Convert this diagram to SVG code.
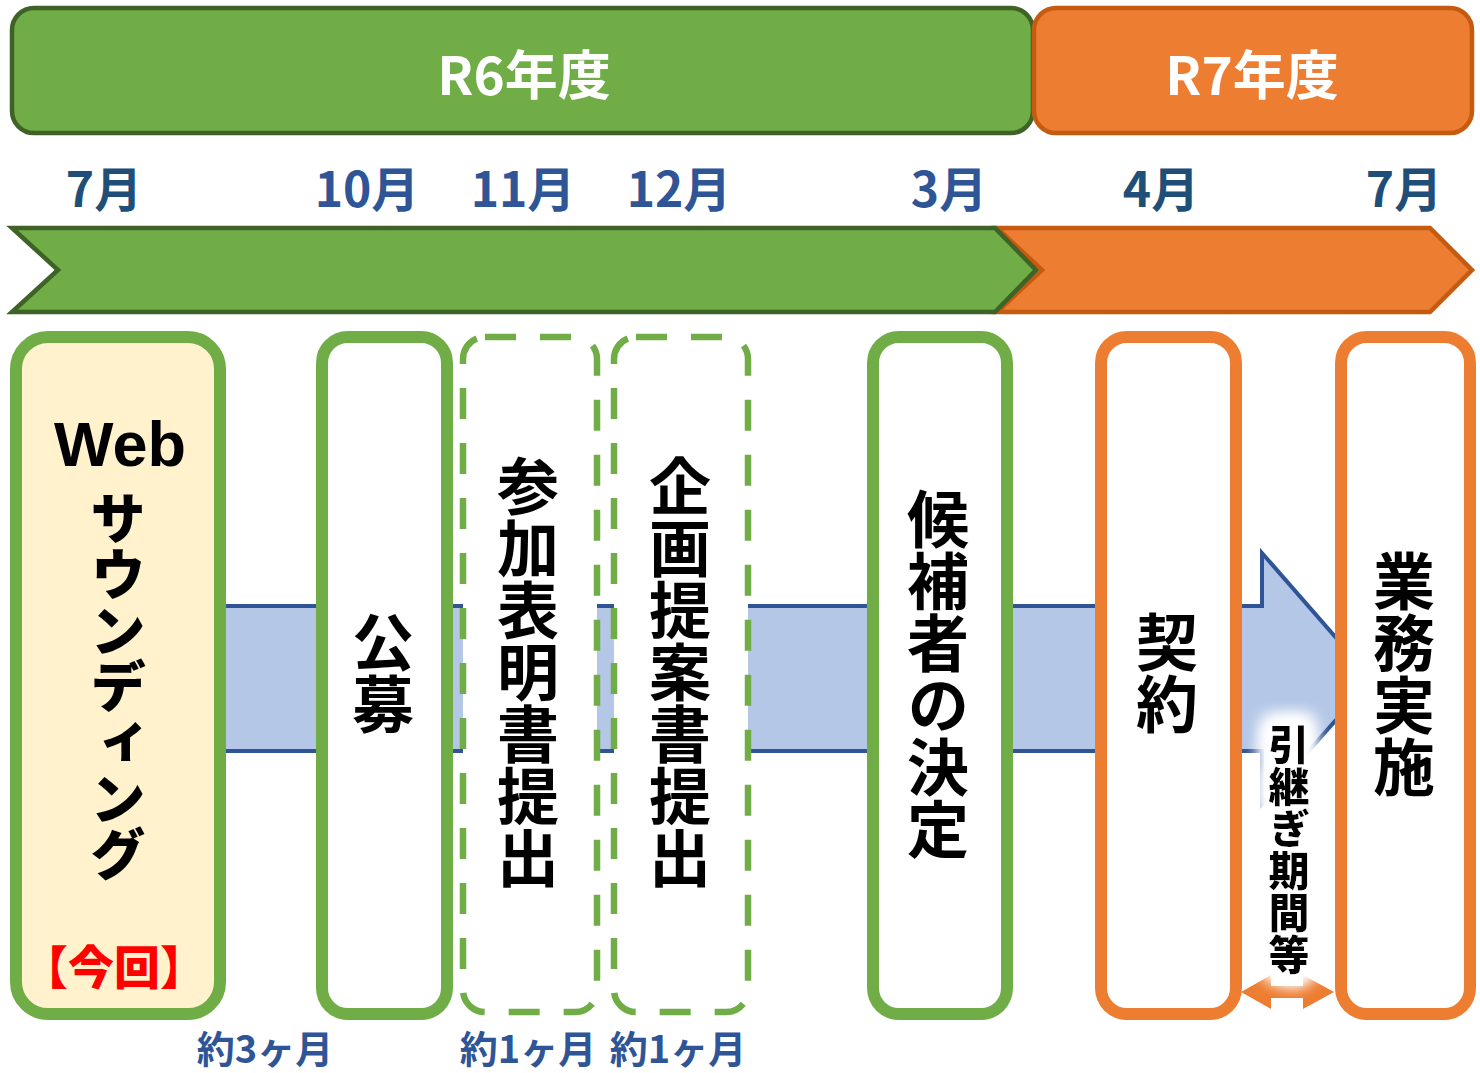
<svg xmlns="http://www.w3.org/2000/svg" width="1480" height="1073" viewBox="0 0 1480 1073">
<defs>
<style>
.jp{font-family:"Noto Sans CJK JP","Noto Sans",sans-serif;font-weight:700;}
.ban{fill:#fff;font-size:53px;text-anchor:middle;}
.mon{font-size:48px;text-anchor:middle;}
.m1{fill:#2f5597;}
.m2{fill:#1f4e79;}
.vt{writing-mode:vertical-rl;text-anchor:middle;font-size:62px;fill:#000;}
.gbox{fill:#fff;stroke:#70ad47;stroke-width:12;}
.obox{fill:#fff;stroke:#ed7d31;stroke-width:12;}
.dbox{fill:#fff;stroke:#70ad47;stroke-width:6.5;stroke-dasharray:31 24;}
.dur{fill:#2f5597;font-size:38px;text-anchor:middle;}
.heavy{font-weight:900;}
</style>
<filter id="glow" x="-80%" y="-20%" width="260%" height="140%">
<feMorphology in="SourceAlpha" operator="dilate" radius="6" result="d"/>
<feGaussianBlur in="d" stdDeviation="9" result="b"/>
<feFlood flood-color="#ffffff"/>
<feComposite in2="b" operator="in" result="g"/>
<feMerge><feMergeNode in="g"/><feMergeNode in="g"/><feMergeNode in="g"/><feMergeNode in="g"/><feMergeNode in="SourceGraphic"/></feMerge>
</filter>
</defs>

<g id="banner-r6">
<rect x="12" y="8" width="1021" height="125" rx="22" fill="#70ad47" stroke="#3f6227" stroke-width="4.5"/>
<text class="jp ban" x="524" y="95">R6年度</text>
</g>
<g id="banner-r7">
<rect x="1034" y="8" width="438" height="125" rx="22" fill="#ed7d31" stroke="#c55a11" stroke-width="4.5"/>
<text class="jp ban" x="1252" y="95">R7年度</text>
</g>

<g id="months">
<text class="jp mon m2" x="104" y="207">7月</text>
<text class="jp mon m1" x="367" y="207">10月</text>
<text class="jp mon m1" x="523" y="207">11月</text>
<text class="jp mon m1" x="679" y="207">12月</text>
<text class="jp mon m1" x="949" y="207">3月</text>
<text class="jp mon m2" x="1161" y="207">4月</text>
<text class="jp mon m2" x="1404" y="207">7月</text>
</g>

<g id="timeline">
<polygon points="997,228 1430,228 1472,270 1430,312 997,312 1042,270" fill="#ed7d31" stroke="#c55a11" stroke-width="4.5" stroke-linejoin="miter"/>
<polygon points="12,228 995,228 1036,270 995,312 12,312 58,270" fill="#70ad47" stroke="#3f6227" stroke-width="4.5" stroke-linejoin="miter"/>
</g>

<g id="connectors">
<polygon id="flow" points="200,606 1262,606 1262,553 1372,679 1262,804 1262,751 200,751" fill="#b4c7e7" stroke="#2f5597" stroke-width="4" stroke-linejoin="miter"/>
<polygon id="handover" points="1241,992 1271,975 1271,986 1303,986 1303,975 1334,992 1303,1009 1303,998 1271,998 1271,1009" fill="#ed7d31"/>
</g>

<g id="node-web">
<rect class="gbox" x="16" y="337" width="204" height="677" rx="32" style="fill:#fff2cc"/>
<text x="120" y="466" font-size="63" text-anchor="middle" fill="#000" style="font-family:'Liberation Sans','Noto Sans CJK JP',sans-serif;font-weight:700">Web</text>
<text class="jp vt heavy" x="118" y="686" style="font-size:56px">サウンディング</text>
<text class="jp heavy" x="114" y="984" font-size="46" text-anchor="middle" fill="#ff0000">【今回】</text>
</g>

<g id="node-koubo">
<rect class="gbox" x="322" y="337" width="125" height="677" rx="26"/>
<text class="jp vt" x="383" y="673">公募</text>
</g>

<g id="node-sanka">
<rect class="dbox" x="463" y="337" width="134" height="675" rx="22"/>
<text class="jp vt" x="528" y="672">参加表明書提出</text>
</g>

<g id="node-kikaku">
<rect class="dbox" x="614" y="337" width="134" height="675" rx="22"/>
<text class="jp vt" x="680" y="672">企画提案書提出</text>
</g>

<g id="node-kouho">
<rect class="gbox" x="873" y="337" width="134" height="677" rx="26"/>
<text class="jp vt" x="938" y="674">候補者の決定</text>
</g>

<g id="node-keiyaku">
<rect class="obox" x="1101" y="337" width="135" height="677" rx="26"/>
<text class="jp vt" x="1167" y="673">契約</text>
</g>

<g id="node-gyomu">
<rect class="obox" x="1341" y="337" width="129" height="677" rx="26"/>
<text class="jp vt" x="1404" y="674">業務実施</text>
</g>

<g id="label-handover">
<text class="jp vt heavy" x="1289" y="850" style="font-size:41px;letter-spacing:1px" filter="url(#glow)">引継ぎ期間等</text>
</g>

<g id="durations">
<text class="jp dur" x="265" y="1063">約3ヶ月</text>
<text class="jp dur" x="528" y="1063">約1ヶ月</text>
<text class="jp dur" x="678" y="1063">約1ヶ月</text>
</g>
</svg>
